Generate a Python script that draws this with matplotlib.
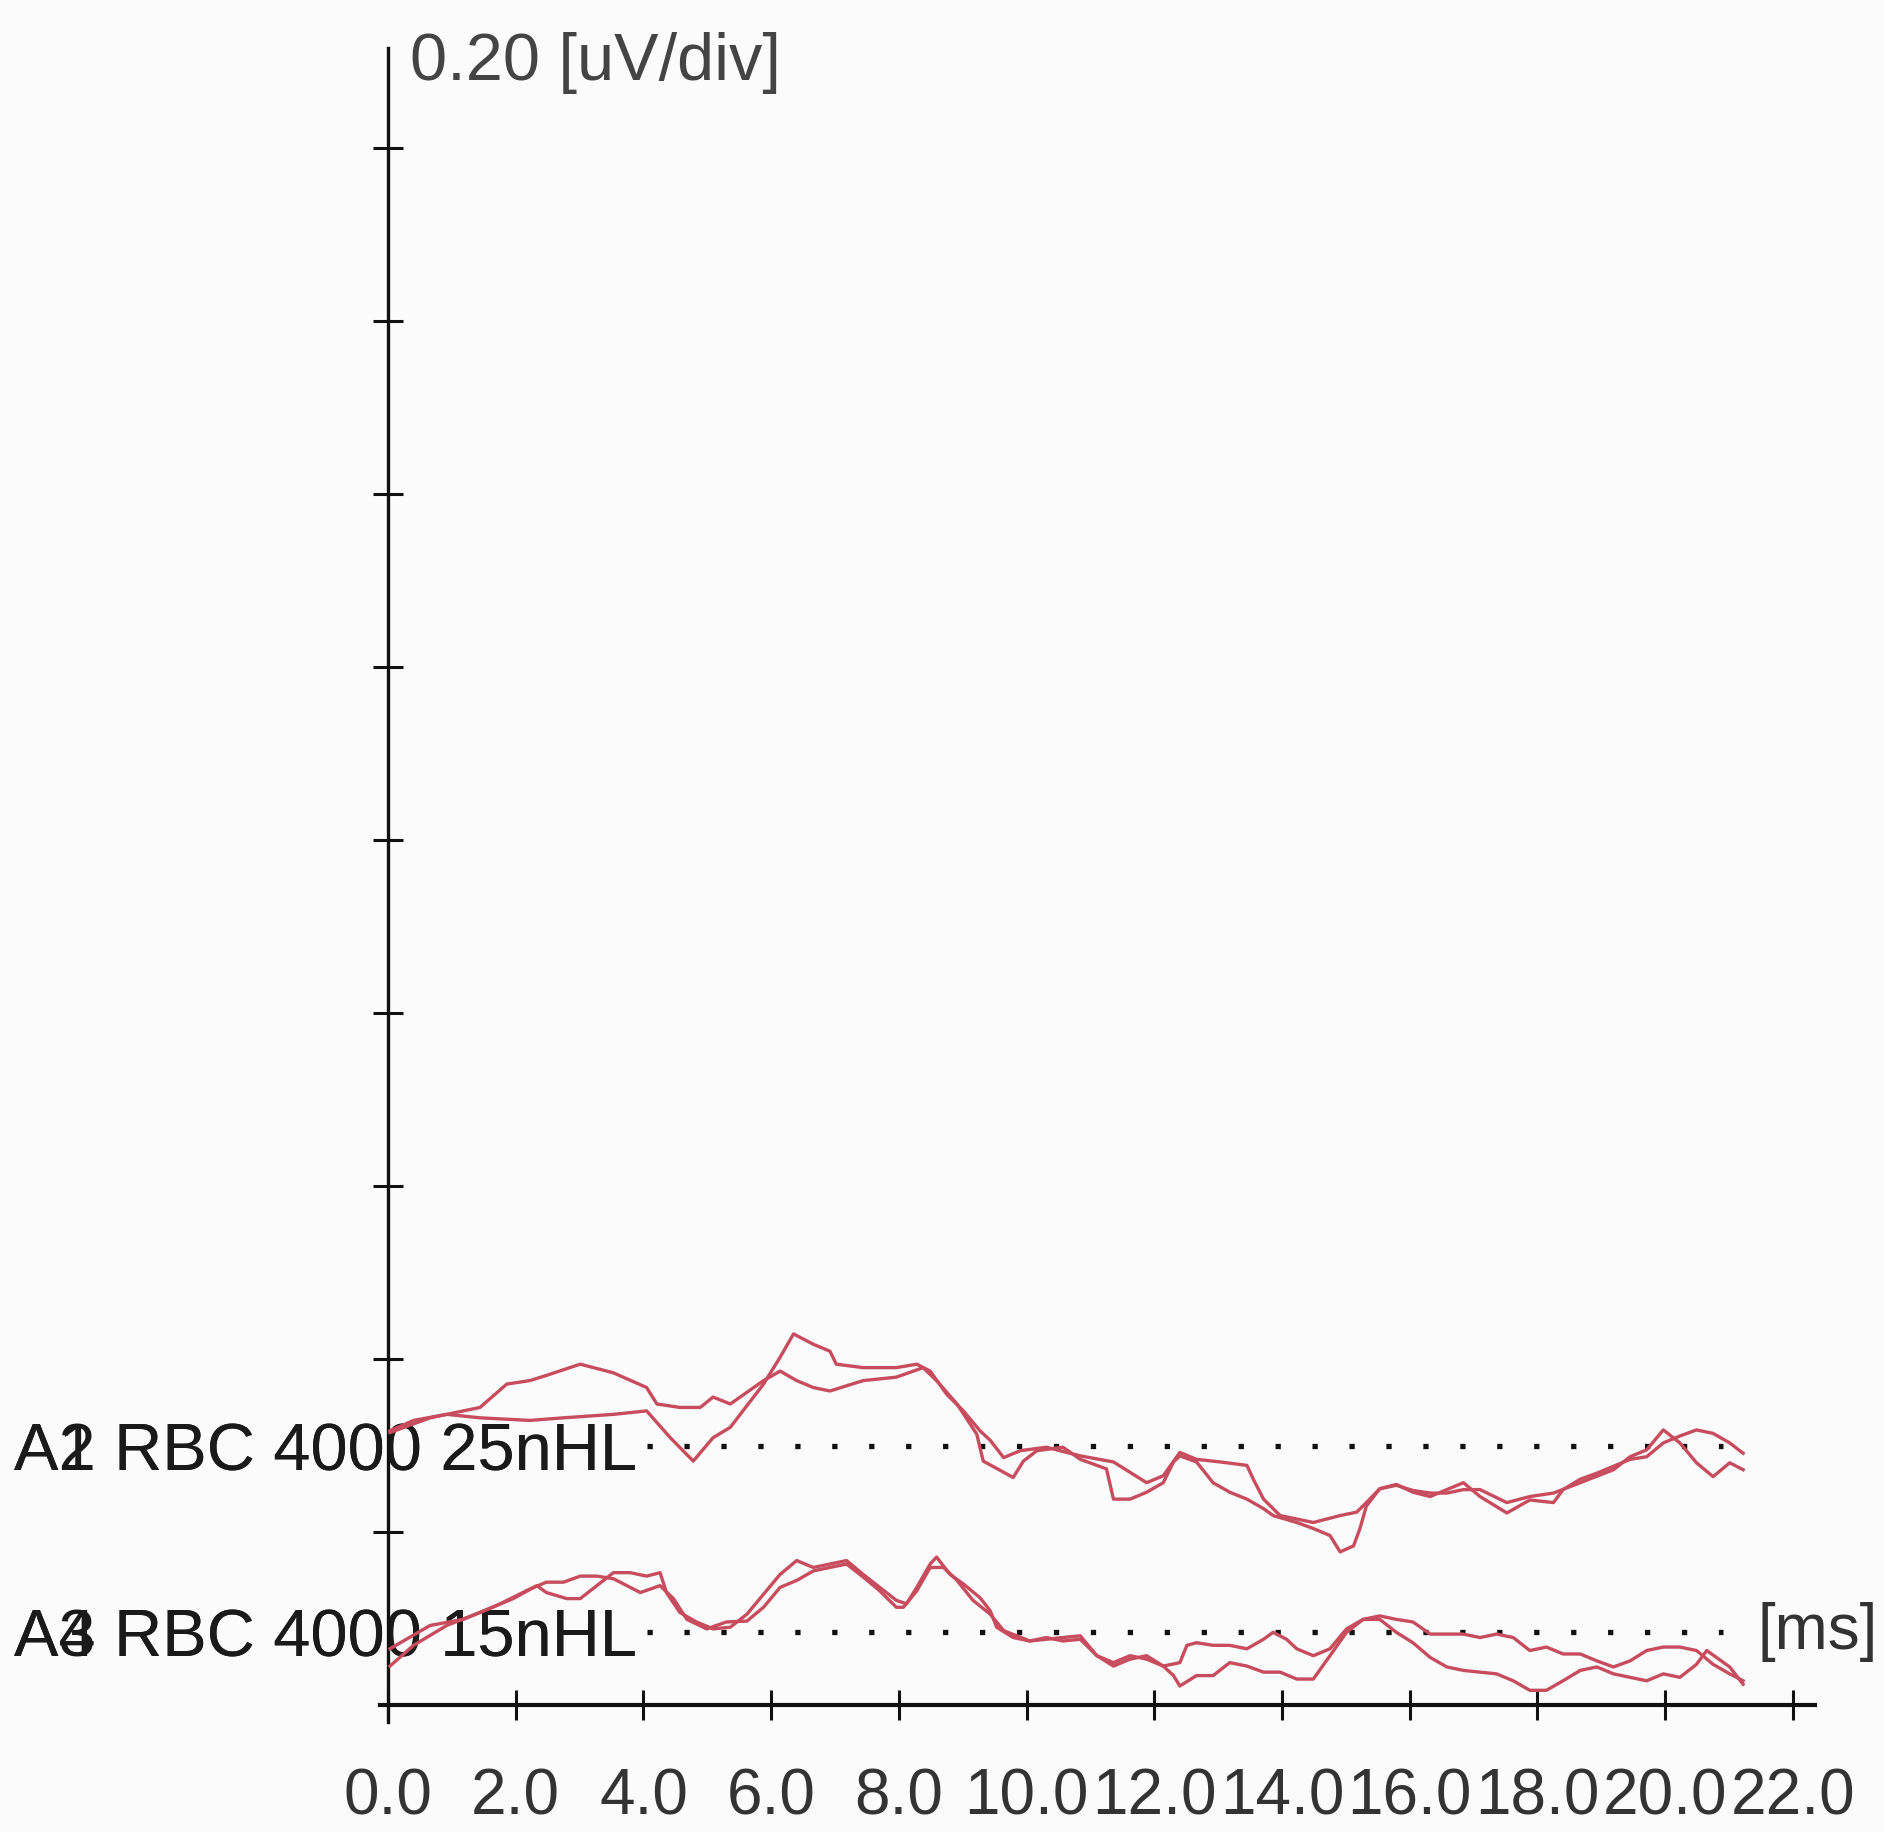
import numpy as np
import matplotlib
matplotlib.use("Agg")
import matplotlib.pyplot as plt

plt.rcParams['font.family'] = ['Liberation Sans', 'DejaVu Sans']

# ABR recordings, RBC 4000 Hz. time in ms, amplitude in uV relative to each baseline
# 25 nHL, first run
ua_t = [0.03, 0.66, 1.44, 1.86, 2.22, 2.48, 3.01, 3.53, 4.05, 4.21, 4.57, 4.89, 5.09,
        5.36, 5.88, 6.14, 6.40, 6.66, 6.92, 7.44, 7.96, 8.38, 8.59, 8.91, 9.22, 9.32, 9.79, 9.95, 10.16, 10.57,
        10.84, 11.25, 11.36, 11.62, 11.88, 12.14, 12.30, 12.40, 12.66, 12.92, 13.18, 13.45, 13.71, 13.86,
        14.23, 14.49, 14.75, 14.91, 15.12, 15.22, 15.32, 15.53, 15.79, 16.05,
        16.32, 16.58, 16.84, 17.10, 17.52, 17.88, 18.25, 18.40, 18.67, 18.93, 19.19, 19.45, 19.71, 19.97,
        20.23, 20.49, 20.75, 21.01, 21.22]
ua_v = [0.016, 0.033, 0.045, 0.072, 0.076, 0.082, 0.095, 0.085, 0.068, 0.049, 0.045, 0.045, 0.057,
        0.049, 0.076, 0.087, 0.076, 0.068, 0.064, 0.076, 0.080, 0.091, 0.076, 0.049, 0.014, -0.017, -0.036, -0.017, -0.005, -0.001,
        -0.015, -0.026, -0.061, -0.061, -0.053, -0.042, -0.018, -0.011, -0.018, -0.042, -0.053, -0.061, -0.072, -0.080,
        -0.088, -0.095, -0.103, -0.122, -0.115, -0.095, -0.069, -0.049, -0.044, -0.053,
        -0.058, -0.050, -0.042, -0.058, -0.077, -0.062, -0.065, -0.050, -0.038, -0.031, -0.023, -0.015, -0.012, 0.004,
        0.012, 0.019, 0.015, 0.004, -0.008]

# 25 nHL, second run
ub_t = [0.03, 0.40, 0.92, 1.44, 2.22, 2.75, 3.53, 4.05, 4.42, 4.78, 5.09,
        5.36, 5.88, 6.14, 6.35, 6.66, 6.92, 7.02, 7.44, 7.96, 8.28, 8.49, 8.75, 9.01, 9.27, 9.43, 9.64, 9.90, 10.31,
        10.84, 11.36, 11.62, 11.88, 12.14, 12.40, 12.66, 13.03, 13.45, 13.55, 13.71, 13.97, 14.49, 14.91,
        15.17, 15.32, 15.53, 15.79, 16.05,
        16.32, 16.58, 16.84, 17.10, 17.52, 17.88, 18.25, 18.67, 19.19, 19.45, 19.71, 19.97, 20.23, 20.49,
        20.75, 21.01, 21.22]
ub_v = [0.018, 0.030, 0.037, 0.033, 0.030, 0.033, 0.037, 0.041, 0.010, -0.017, 0.010,
        0.022, 0.072, 0.103, 0.130, 0.118, 0.110, 0.095, 0.091, 0.091, 0.095, 0.087, 0.060, 0.041, 0.018, 0.007, -0.013, -0.005, -0.001,
        -0.011, -0.018, -0.030, -0.042, -0.034, -0.007, -0.015, -0.018, -0.022, -0.038, -0.061, -0.080, -0.088, -0.080,
        -0.076, -0.065, -0.049, -0.045, -0.051,
        -0.054, -0.054, -0.050, -0.050, -0.065, -0.058, -0.054, -0.042, -0.027, -0.012, -0.004, 0.019, 0.004, -0.019,
        -0.035, -0.019, -0.027]

# 15 nHL, first run
la_t = [0.03, 0.40, 0.92, 1.44, 1.96, 2.33, 2.48, 2.80, 3.01, 3.27, 3.53, 3.79, 4.05, 4.26, 4.36, 4.57, 4.83, 5.09,
        5.36, 5.62, 5.88, 6.14, 6.40, 6.66, 6.92, 7.18, 7.44, 7.70, 7.96, 8.12, 8.28, 8.49, 8.59, 8.80,
        9.01, 9.27, 9.43, 9.53, 9.79, 10.05, 10.31, 10.57,
        10.84, 11.10, 11.36, 11.62, 11.88, 12.14, 12.30, 12.40, 12.66, 12.92, 13.18, 13.45, 13.71, 13.97,
        14.23, 14.49, 14.75, 15.01, 15.27, 15.53, 15.79, 16.05,
        16.32, 16.58, 16.84, 17.36, 17.62, 17.88, 18.14, 18.40, 18.67, 18.93, 19.19, 19.45, 19.71, 19.97,
        20.23, 20.49, 20.65, 21.01, 21.22]
la_v = [-0.039, -0.015, 0.008, 0.023, 0.039, 0.054, 0.046, 0.039, 0.039, 0.054, 0.069, 0.069, 0.065, 0.069, 0.046, 0.023, 0.012, 0.004,
        0.006, 0.021, 0.044, 0.067, 0.083, 0.075, 0.079, 0.083, 0.067, 0.052, 0.037, 0.033, 0.052, 0.079, 0.087, 0.067,
        0.056, 0.040, 0.025, 0.006, -0.006, -0.010, -0.006, -0.010,
        -0.008, -0.027, -0.039, -0.031, -0.027, -0.039, -0.050, -0.062, -0.050, -0.050, -0.035, -0.039, -0.046, -0.046,
        -0.054, -0.054, -0.027, 0.000, 0.015, 0.015, 0.000, -0.012,
        -0.029, -0.040, -0.044, -0.048, -0.056, -0.067, -0.067, -0.056, -0.044, -0.040, -0.048, -0.052, -0.056, -0.048,
        -0.052, -0.037, -0.021, -0.040, -0.060]

# 15 nHL, second run
lb_t = [0.03, 0.66, 1.18, 1.70, 2.22, 2.48, 2.75, 3.01, 3.27, 3.53, 3.95, 4.26, 4.47, 4.68, 4.99, 5.30,
        5.62, 5.88, 6.14, 6.40, 6.66, 6.92, 7.18, 7.44, 7.70, 7.96, 8.07, 8.28, 8.49, 8.70, 8.91, 9.16,
        9.43, 9.64, 10.05, 10.57,
        10.84, 11.10, 11.36, 11.62, 11.88, 12.14, 12.40, 12.51, 12.66, 12.92, 13.18, 13.45, 13.71, 13.86,
        14.07, 14.23, 14.49, 14.75, 15.01, 15.27, 15.53, 15.79, 16.05,
        16.32, 16.84, 17.10, 17.36, 17.62, 17.88, 18.14, 18.40, 18.67, 18.93, 19.19, 19.45, 19.71, 19.97,
        20.23, 20.49, 20.75, 21.01, 21.22]
lb_v = [-0.019, 0.008, 0.015, 0.031, 0.050, 0.058, 0.058, 0.065, 0.065, 0.062, 0.046, 0.054, 0.039, 0.015, 0.004, 0.012,
        0.013, 0.029, 0.052, 0.060, 0.071, 0.075, 0.079, 0.064, 0.048, 0.029, 0.029, 0.048, 0.075, 0.075, 0.060, 0.037,
        0.021, 0.002, -0.010, -0.006,
        -0.004, -0.027, -0.035, -0.027, -0.031, -0.039, -0.035, -0.015, -0.012, -0.015, -0.015, -0.019, -0.008, 0.000,
        -0.008, -0.019, -0.027, -0.019, 0.004, 0.015, 0.019, 0.015, 0.012,
        -0.002, -0.002, -0.006, -0.002, -0.006, -0.021, -0.017, -0.025, -0.025, -0.033, -0.040, -0.033, -0.021, -0.017,
        -0.017, -0.021, -0.037, -0.048, -0.056]

# baselines of the two channels on the screen (uV above the time axis)
offset_25 = 0.299
offset_15 = 0.084

labels_25 = ["A1 RBC 4000 25nHL", "A2 RBC 4000 25nHL"]
labels_15 = ["A3 RBC 4000 15nHL", "A4 RBC 4000 15nHL"]
x_ticks = np.arange(0, 22.1, 2.0)
y_ticks = np.arange(0.2, 1.81, 0.2)
scale_text = "0.20 [uV/div]"
unit_text = "[ms]"

bg = '#fbfbfb'
trace_col = '#c64c5e'
ink = '#111111'
fs = 46

fig = plt.figure(figsize=(18.84, 18.32), dpi=100, facecolor=bg)
ax = fig.add_axes([0, 0, 1, 1])
ax.set_facecolor(bg)
ax.set_xlim(-6.076, 23.426)
ax.set_ylim(-0.1468, 1.971)

# axes drawn through the origin like the recorder display
for side in ['top', 'right']:
    ax.spines[side].set_visible(False)
ax.spines['left'].set_position(('data', 0))
ax.spines['bottom'].set_position(('data', 0))
ax.spines['left'].set_bounds(-0.02, 1.915)
ax.spines['bottom'].set_bounds(-0.12, 22.35)
ax.spines['left'].set_linewidth(2.4)
ax.spines['bottom'].set_linewidth(3.0)
ax.spines['left'].set_color(ink)
ax.spines['bottom'].set_color(ink)

ax.set_xticks(x_ticks, labels=[f"{v:.1f}" for v in x_ticks])
ax.set_yticks(y_ticks, labels=[])
ax.tick_params(axis='x', direction='inout', length=22, width=2.2, color=ink,
               labelsize=fs, labelcolor='#333333', pad=34)
ax.tick_params(axis='y', direction='inout', length=22, width=2.2, color=ink)

# dotted baselines
for off in [offset_25, offset_15]:
    ax.plot([4.06, 20.9], [off, off], color=ink, lw=3.8, linestyle=(0, (1, 6.0)),
            dash_capstyle='butt', zorder=2)

# channel labels (both runs printed on top of each other)
for lab in labels_25:
    ax.text(-5.86, offset_25 - 0.028, lab, fontsize=48, color='#1a1a1a',
            ha='left', va='baseline', zorder=2)
for lab in labels_15:
    ax.text(-5.86, offset_15 - 0.028, lab, fontsize=48, color='#1a1a1a',
            ha='left', va='baseline', zorder=2)

# traces
for t, v, off in [(ua_t, ua_v, offset_25), (ub_t, ub_v, offset_25),
                  (la_t, la_v, offset_15), (lb_t, lb_v, offset_15)]:
    ax.plot(t, np.array(v) + off, color=trace_col, lw=2.4, zorder=3)

ax.text(0.34, 1.879, scale_text, fontsize=48, color='#444444', ha='left', va='baseline')
ax.text(21.44, offset_15 - 0.019, unit_text, fontsize=fs, color='#333333', ha='left', va='baseline')

fig.savefig('out.png', dpi=100, facecolor=bg)
